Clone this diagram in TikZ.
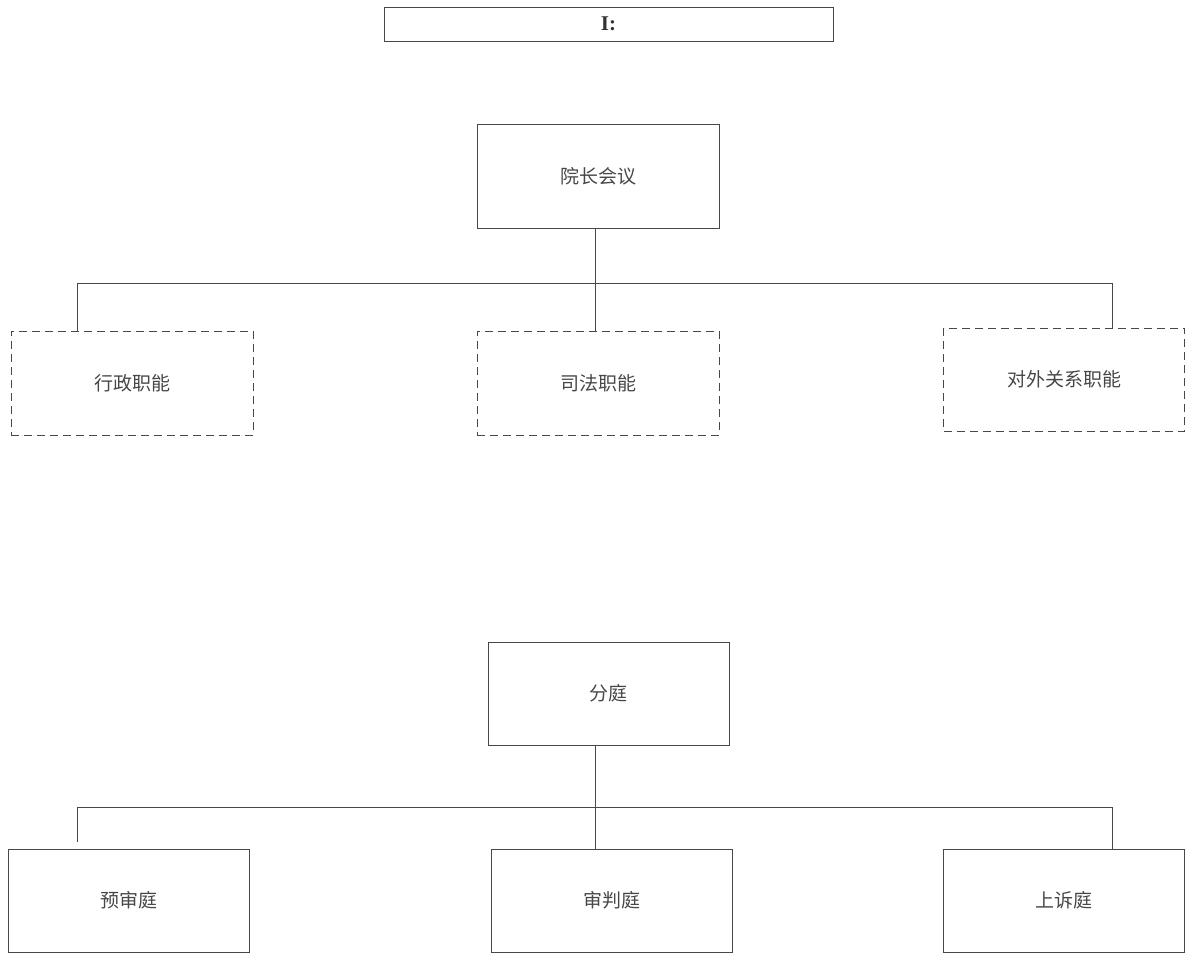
\documentclass[tikz,border=0pt]{standalone}
\usepackage{fontspec}
\setmainfont{Liberation Serif}
\newfontfamily\cjk{Noto Sans CJK SC}
\begin{document}
\begin{tikzpicture}[x=1pt,y=-1pt,
  line/.style={draw=black!72, line width=1pt},
  box/.style={line, rectangle, inner sep=0pt, text=black!72, font=\cjk\fontsize{19}{22}\selectfont},
  dbox/.style={box, dash pattern=on 8pt off 5pt},
]
\useasboundingbox (0,0) rectangle (1185,954);
% title
\node[line, rectangle, inner sep=0pt, minimum width=449pt, minimum height=34pt, font=\bfseries\fontsize{21}{24}\selectfont, text=black!80] (title) at (608.5,24) {I:};
% upper group
\node[box, minimum width=242pt, minimum height=104pt] (pres) at (598,176) {\raisebox{-1pt}{院长会议}};
\node[dbox, minimum width=242pt, minimum height=104pt] (adm) at (132,383) {\raisebox{-1pt}{行政职能}};
\node[dbox, minimum width=242pt, minimum height=104pt] (jud) at (598,383) {\raisebox{-1pt}{司法职能}};
\node[dbox, minimum width=241pt, minimum height=103pt] (ext) at (1064,379.5) {\raisebox{-1pt}{对外关系职能}};
\coordinate (u1) at (77,283);
\coordinate (u2) at (595,283);
\coordinate (u3) at (1112,283);
\draw[line] (pres.south -| u2) -- (jud.north -| u2);
\draw[line] (u1) -- (u3);
\draw[line] (u1) -- (adm.north -| u1);
\draw[line] (u3) -- (ext.north -| u3);
% lower group
\node[box, minimum width=241pt, minimum height=103pt] (div) at (608.5,693.5) {\raisebox{-1pt}{分庭}};
\node[box, minimum width=241pt, minimum height=103pt] (pre) at (128.5,900.5) {\raisebox{-1pt}{预审庭}};
\node[box, minimum width=241pt, minimum height=103pt] (tri) at (611.5,900.5) {\raisebox{-1pt}{审判庭}};
\node[box, minimum width=241pt, minimum height=103pt] (app) at (1064,900.5) {\raisebox{-1pt}{上诉庭}};
\coordinate (l1) at (77,807);
\coordinate (l2) at (595,807);
\coordinate (l3) at (1112,807);
\coordinate (l1e) at (77,842);
\draw[line] (div.south -| l2) -- (tri.north -| l2);
\draw[line] (l1) -- (l3);
\draw[line] (l1) -- (l1e);
\draw[line] (l3) -- (app.north -| l3);
\end{tikzpicture}
\end{document}
